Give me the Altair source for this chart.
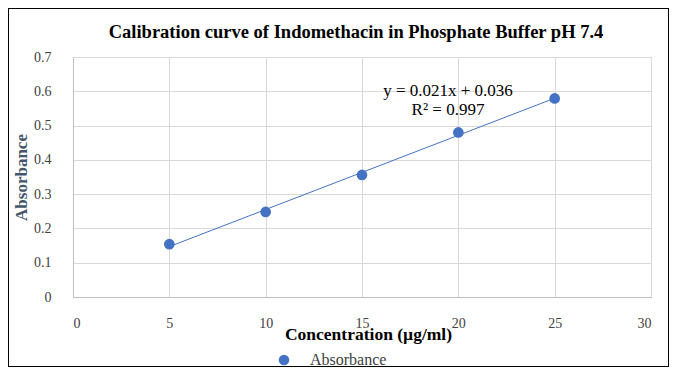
import altair as alt
import pandas as pd

concentration = [5, 10, 15, 20, 25]
absorbance = [0.154, 0.248, 0.356, 0.480, 0.579]
series_name = ["Absorbance"] * 5
x_ticks = [0, 5, 10, 15, 20, 25, 30]
y_ticks = [0, 0.1, 0.2, 0.3, 0.4, 0.5, 0.6, 0.7]
equation_lines = ["y = 0.021x + 0.036", "R² = 0.997"]
chart_title = ["Calibration curve of Indomethacin in Phosphate Buffer pH 7.4"]

df = pd.DataFrame({"conc": concentration, "abs": absorbance, "series": series_name})

SERIF = "Liberation Serif"
BLUE = "#4472C4"

xscale = alt.Scale(domain=[0, 30], nice=False)
yscale = alt.Scale(domain=[0, 0.7], nice=False)

xaxis = alt.Axis(values=x_ticks, title="Concentration (µg/ml)", labelFont=SERIF, labelFontSize=14,
                 labelColor="#404040", titleFont=SERIF, titleFontSize=17.5, titleFontWeight="bold",
                 titleColor="#000000", labelPadding=19, titlePadding=-5, ticks=False, titleX=295,
                 domainColor="#bfbfbf", gridColor="#d9d9d9", grid=True)
yaxis = alt.Axis(values=y_ticks, title="Absorbance", labelFont=SERIF, labelFontSize=14,
                 labelColor="#404040", titleFont=SERIF, titleFontSize=17, titleFontWeight="bold",
                 titleColor="#44546A", labelPadding=22, titlePadding=3, ticks=False,
                 domainColor="#bfbfbf", gridColor="#d9d9d9", grid=True,
                 labelExpr="datum.value == 0 ? '0' : format(datum.value, '.1f')")

base = alt.Chart(df)

trend = base.transform_regression("conc", "abs").mark_line(color=BLUE, strokeWidth=1).encode(
    x=alt.X("conc:Q", scale=xscale, axis=xaxis),
    y=alt.Y("abs:Q", scale=yscale, axis=yaxis),
)

points = base.mark_circle(size=115, opacity=1).encode(
    x=alt.X("conc:Q", scale=xscale, axis=xaxis),
    y=alt.Y("abs:Q", scale=yscale, axis=yaxis),
    color=alt.Color("series:N", scale=alt.Scale(range=[BLUE]),
                    legend=alt.Legend(title=None, orient="none", legendX=203, legendY=295,
                                      labelFont=SERIF, labelFontSize=16, labelColor="#404040",
                                      symbolSize=110, symbolType="circle", labelOffset=18)),
)

eq_df = pd.DataFrame({"line": equation_lines, "order": [0, 1]})
eq1 = alt.Chart(eq_df).transform_filter("datum.order == 0").mark_text(
    font=SERIF, fontSize=17, color="#000000", align="center", baseline="middle"
).encode(text="line:N", x=alt.value(375), y=alt.value(34))
eq2 = alt.Chart(eq_df).transform_filter("datum.order == 1").mark_text(
    font=SERIF, fontSize=17, color="#000000", align="center", baseline="middle"
).encode(text="line:N", x=alt.value(375), y=alt.value(53))

title_df = pd.DataFrame({"t": chart_title})
title_mark = alt.Chart(title_df).mark_text(
    font=SERIF, fontSize=18.5, fontWeight="bold", color="#000000", align="center", baseline="middle"
).encode(text="t:N", x=alt.value(283), y=alt.value(-25))

frame = alt.Chart(df).mark_rect(fill=None, stroke="#000000", strokeWidth=1).encode(
    x=alt.value(-64.5), x2=alt.value(595.5), y=alt.value(-48.5), y2=alt.value(309.5)
)

chart = alt.layer(trend, points, eq1, eq2, title_mark, frame).properties(
    width=578, height=240,
    autosize=alt.AutoSizeParams(type="none"),
    padding={"left": 65, "top": 49, "right": 18, "bottom": 70},
).configure_view(stroke=None).configure(background="white")

chart.save("out.html", embed_options={"renderer": "svg", "actions": False})
